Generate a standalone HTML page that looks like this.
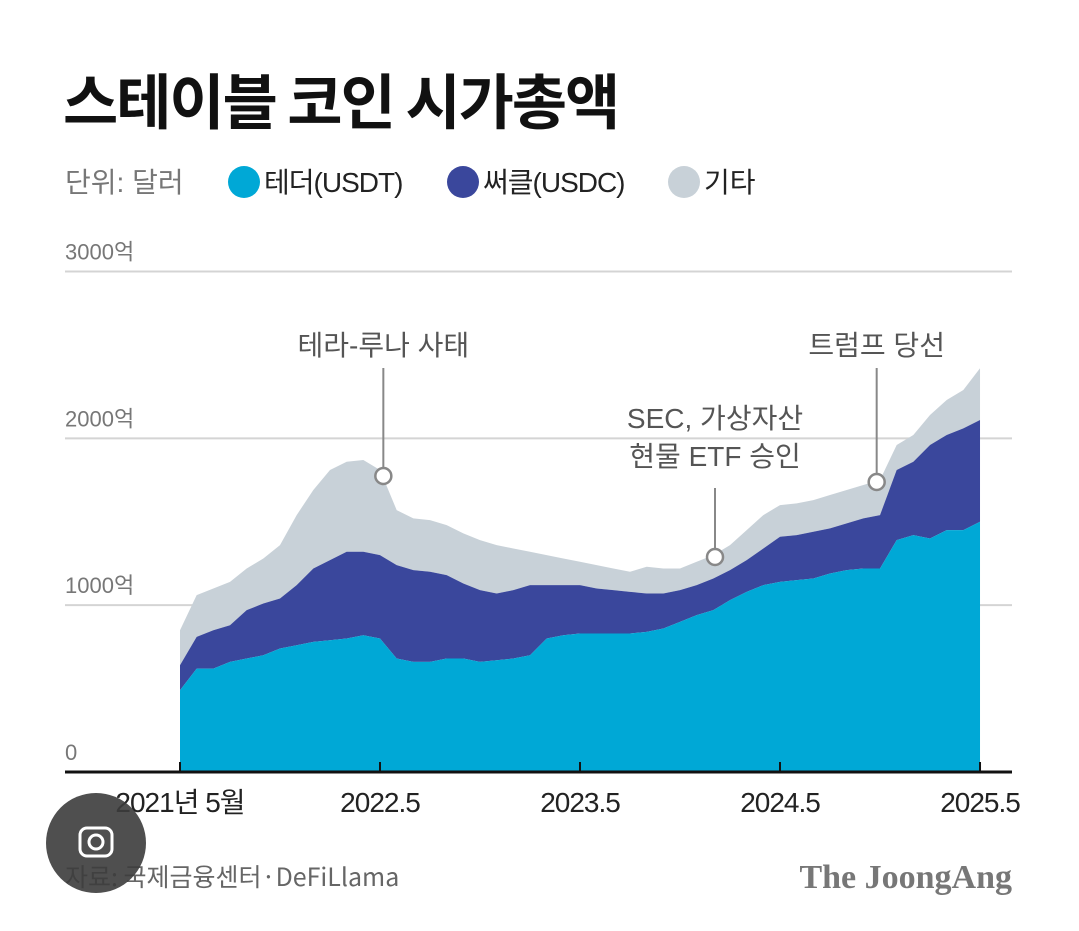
<!DOCTYPE html>
<html><head><meta charset="utf-8">
<style>
body{margin:0;background:#fff;width:1079px;height:926px;overflow:hidden;font-family:"Liberation Sans","Noto Sans CJK KR",sans-serif;}
svg text{font-family:"Liberation Sans","Noto Sans CJK KR",sans-serif;}
</style></head><body>
<svg id="chart" width="1079" height="926" viewBox="0 0 1079 926" xmlns="http://www.w3.org/2000/svg">
<text x="63" y="124" font-size="60" font-weight="700" fill="#111" style="font-family:'Noto Sans CJK KR',sans-serif" letter-spacing="-2">스테이블 코인 시가총액</text>
<g font-size="28" style="font-family:'Noto Sans CJK KR',sans-serif">
<text x="65" y="192" fill="#777">단위: 달러</text>
<circle cx="244" cy="182" r="16" fill="#00a8d6"/>
<text x="264" y="192" fill="#222" letter-spacing="-1">테더(USDT)</text>
<circle cx="463" cy="182" r="16" fill="#3a479c"/>
<text x="483" y="192" fill="#222" letter-spacing="-1">써클(USDC)</text>
<circle cx="684" cy="182" r="16" fill="#c8d1d8"/>
<text x="704" y="192" fill="#222">기타</text>
</g>
<g id="grid"></g>
<g id="areas"></g>
<g id="axis"></g>
<g id="annot" font-size="28" fill="#555" style="font-family:'Noto Sans CJK KR',sans-serif"></g>
<text x="65" y="886" font-size="25" fill="#666" style="font-family:'Noto Sans CJK KR',sans-serif">자료: 국제금융센터·DeFiLlama</text>
<text x="1012" y="888" text-anchor="end" font-size="34" font-weight="700" fill="#777" style="font-family:'Liberation Serif',serif">The JoongAng</text>
<g>
<circle cx="96" cy="843" r="50" fill="#3c3c3c" opacity="0.9"/>
<rect x="80" y="828" width="32" height="28" rx="7" fill="none" stroke="#fff" stroke-width="3"/>
<circle cx="96" cy="842" r="7" fill="none" stroke="#fff" stroke-width="3"/>
</g>
</svg>
<script>
const yTicks=[0,1000,2000,3000];
const yTickLabels=["0","1000억","2000억","3000억"];
const xTickLabels=["2021년 5월","2022.5","2023.5","2024.5","2025.5"];
const xTickMonths=[0,12,24,36,48];
const usdt=[490,620,620,660,680,700,740,760,780,790,800,820,800,680,660,660,680,680,660,670,680,700,800,820,830,830,830,830,840,860,900,940,970,1030,1080,1120,1140,1150,1160,1190,1210,1220,1220,1390,1420,1400,1450,1450,1500];
const usdc=[150,190,230,220,290,310,300,360,440,480,520,500,500,560,550,540,500,450,430,400,410,420,320,300,290,270,260,250,230,210,190,180,190,180,190,220,270,270,280,270,280,300,320,420,440,560,570,610,610];
const other=[210,250,250,260,250,270,320,420,470,540,540,550,510,330,310,310,300,300,300,290,250,200,180,160,140,140,130,120,160,150,130,140,140,150,180,200,190,190,190,200,200,200,210,150,160,180,210,230,310];
const X=i=>180+i*16.667;
const Y=v=>772-v*0.16683;
const NS="http://www.w3.org/2000/svg";
function mk(tag,attrs,parent){const e=document.createElementNS(NS,tag);for(const k in attrs)e.setAttribute(k,attrs[k]);parent.appendChild(e);return e;}
const grid=document.getElementById('grid');
yTicks.forEach((v,i)=>{
 if(v>0){const l=mk('line',{x1:65,x2:1012,y1:Y(v),y2:Y(v),stroke:'#d4d4d4','stroke-width':2},grid);
 
 }
 const t=mk('text',{x:65,y:Y(v)-12,'font-size':22,fill:'#777'},grid);
 
 
 t.textContent=yTickLabels[i];
});
const areas=document.getElementById('areas');
const n=usdt.length;
const lay1=usdt.slice(), lay2=usdt.map((v,i)=>v+usdc[i]), lay3=lay2.map((v,i)=>v+other[i]);
function area(top,bot,fill,name){
 let d='M'+X(0)+','+Y(top[0]);
 for(let i=1;i<n;i++)d+=' L'+X(i)+','+Y(top[i]);
 for(let i=n-1;i>=0;i--)d+=' L'+X(i)+','+Y(bot?bot[i]:0);
 const p=mk('path',{d:d+'Z',fill:fill},areas);
 
 
}
area(lay3,lay2,'#c8d1d8','area-other');
area(lay2,lay1,'#3a479c','area-usdc');
area(lay1,null,'#00a8d6','area-usdt');
const axis=document.getElementById('axis');
const base=mk('line',{x1:65,x2:1012,y1:772,y2:772,stroke:'#111','stroke-width':3},axis);


xTickMonths.forEach((m,i)=>{
 const tk=mk('line',{x1:X(m),x2:X(m),y1:762,y2:772,stroke:'#111','stroke-width':2},axis);
 
 
 const t=mk('text',{x:X(m),y:812,'font-size':28,fill:'#222','text-anchor':'middle','letter-spacing':'-1'},axis);
 
 
 t.textContent=xTickLabels[i];
});
const an=document.getElementById('annot');
function annot(m,cy,lines,ty,ly1,name){
 const g=mk('g',{},an);
 
 
 mk('line',{x1:X(m),x2:X(m),y1:ly1,y2:cy-7,stroke:'#888','stroke-width':2},g);
 mk('circle',{cx:X(m),cy:cy,r:8,fill:'#fff',stroke:'#888','stroke-width':2.5},g);
 lines.forEach((s,k)=>{const t=mk('text',{x:X(m),y:ty+k*38,'text-anchor':'middle',fill:'#555'},g);t.textContent=s;});
}
annot(12.2,476,["테라-루나 사태"],355,368,'annotation-terra-luna');
annot(32.1,557,["SEC, 가상자산","현물 ETF 승인"],428,488,'annotation-sec-etf');
annot(41.8,482,["트럼프 당선"],355,368,'annotation-trump');
</script>
</body></html>
